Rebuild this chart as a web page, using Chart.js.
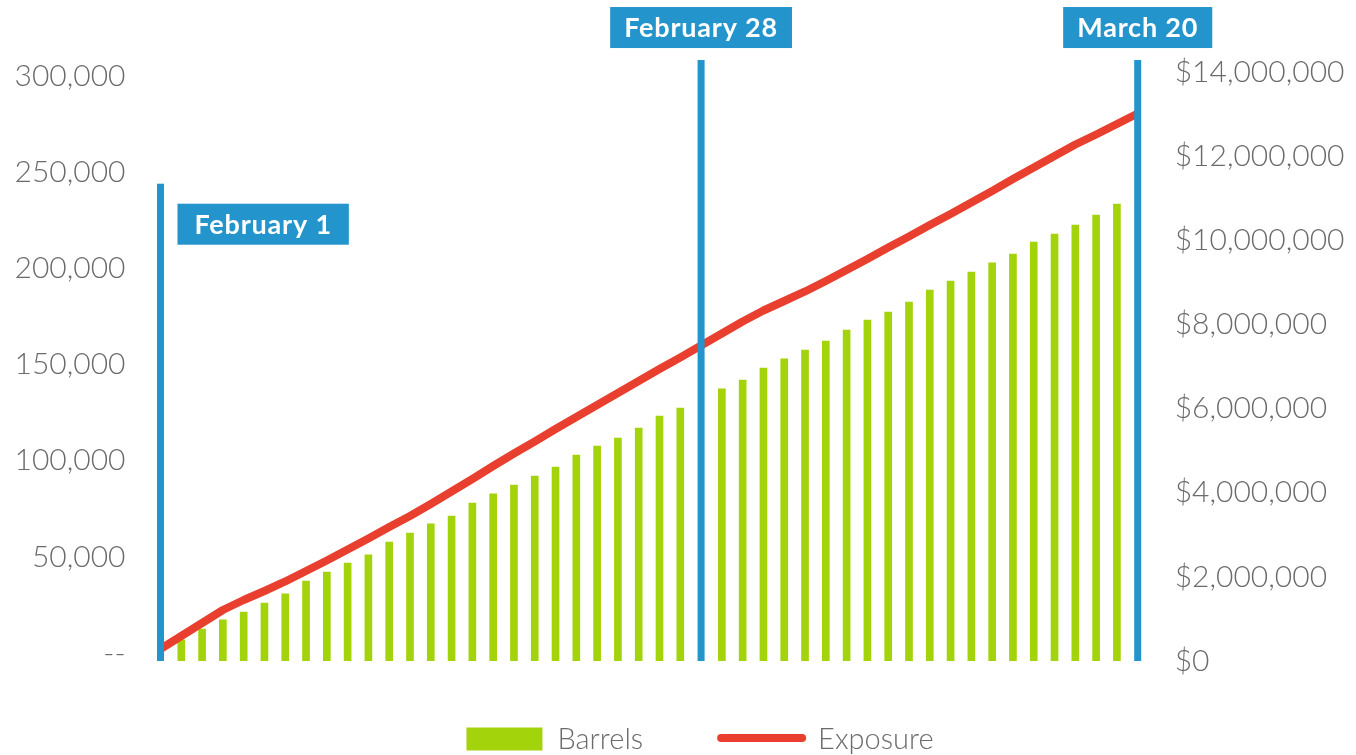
<!DOCTYPE html>
<html>
<head>
<meta charset="utf-8">
<script src="https://cdn.jsdelivr.net/npm/chart.js@4.4.1/dist/chart.umd.min.js"></script>
<style>
    html, body { margin: 0; padding: 0; background: #fff; }
    #wrap { width: 1356px; height: 755px; }
</style>
</head>
<body>
<div id="wrap"><canvas id="exposure-chart"></canvas></div>
<script>
// day slots from February 1 (1) to March 20 (48)
const days = [1, 2, 3, 4, 5, 6, 7, 8, 9, 10, 11, 12, 13, 14, 15, 16, 17, 18, 19, 20, 21, 22, 23, 24,
    25, 26, 27, 28, 29, 30, 31, 32, 33, 34, 35, 36, 37, 38, 39, 40, 41, 42, 43, 44, 45, 46, 47, 48];

const barrels = [null, 6800, 12500, 17200, 21300, 26000, 30700, 37400, 42100, 46800, 51000, 57700,
    62400, 67100, 71200, 78000, 82700, 87300, 92000, 96700, 102900, 107600, 111800, 117000, 123200,
    127400, null, 137300, 141900, 148200, 152900, 157500, 162200, 167900, 173100, 177300, 182500,
    188700, 193400, 198100, 202800, 207400, 213700, 217800, 222500, 227700, 233400, null];

const exposure = [285000, 594000, 903000, 1212000, 1450000, 1664000, 1890000, 2139000, 2389000,
    2650000, 2912000, 3185000, 3447000, 3732000, 4029000, 4326000, 4635000, 4932000, 5217000,
    5514000, 5800000, 6085000, 6370000, 6655000, 6941000, 7214000, 7499000, 7784000, 8070000,
    8331000, 8557000, 8783000, 9032000, 9294000, 9555000, 9829000, 10090000, 10363000, 10625000,
    10898000, 11171000, 11457000, 11730000, 12003000, 12277000, 12514000, 12764000, 13014000];

const barrelTicks = [0, 50000, 100000, 150000, 200000, 250000, 300000];
const exposureTicks = [0, 2000000, 4000000, 6000000, 8000000, 10000000, 12000000, 14000000];

const markerDays = [1, 27, 48];
const markerLabels = ['February 1', 'February 28', 'March 20'];
const markerTops = [244000, 308300, 308300];   // in barrels units

const blue = '#2394cc';
const green = '#a3d30a';
const red = '#e83f2f';
const grey = '#6b6b6b';

const barrelMin = -4160;
const barrelMax = 302080;

const markerPlugin = {
    id: 'markers',
    afterDatasetsDraw(chart, args, opts) {
        const { ctx, chartArea, scales: { x, yBarrels } } = chart;
        ctx.save();
        ctx.font = '700 27px Lato';
        ctx.letterSpacing = '0.8px';
        ctx.textAlign = 'center';
        ctx.textBaseline = 'middle';
        markerDays.forEach((d, i) => {
            const px = x.getPixelForValue(days.indexOf(d));
            const top = yBarrels.getPixelForValue(markerTops[i]);
            ctx.fillStyle = blue;
            ctx.fillRect(px - 3.5, top, 7, chartArea.bottom - top);

            const side = opts.placement[i] === 'side';
            const w = ctx.measureText(markerLabels[i]).width + (side ? 34 : 28);
            const h = 41;
            const bx = side ? px + 17 : px - w / 2;
            const by = side ? top + 20 : top - 12 - h;
            ctx.fillStyle = blue;
            ctx.fillRect(bx, by, w, h);
            ctx.fillStyle = '#fff';
            ctx.fillText(markerLabels[i], bx + w / 2, by + h / 2 + 1);
        });
        ctx.restore();
    }
};

// legend drawn under the plot, centred a little right of the canvas middle
const legendPlugin = {
    id: 'bottomLegend',
    afterDraw(chart, args, opts) {
        const { ctx } = chart;
        const [bars, line] = chart.data.datasets;
        ctx.save();
        ctx.font = '300 29px Lato';
        ctx.textBaseline = 'middle';
        ctx.textAlign = 'left';
        const w1 = ctx.measureText(bars.label).width;
        const w2 = ctx.measureText(line.label).width;
        const total = 76 + 15 + w1 + 74 + 89 + 12 + w2;
        let cx = opts.centerX - total / 2;
        const cy = opts.y;

        ctx.fillStyle = bars.backgroundColor;
        ctx.fillRect(cx, cy - 11.5, 76, 23);
        cx += 76 + 15;
        ctx.fillStyle = grey;
        ctx.fillText(bars.label, cx, cy + 1);
        cx += w1 + 74;

        ctx.strokeStyle = line.borderColor;
        ctx.lineWidth = 8;
        ctx.lineCap = 'round';
        ctx.beginPath();
        ctx.moveTo(cx + 4, cy - 1);
        ctx.lineTo(cx + 85, cy - 1);
        ctx.stroke();
        cx += 89 + 12;
        ctx.fillText(line.label, cx, cy + 1);
        ctx.restore();
    }
};

function createExposureChart() {
    const ctx = document.getElementById('exposure-chart');
    Chart.defaults.font.family = 'Lato';
    Chart.defaults.color = grey;

    new Chart(ctx, {
        data: {
            labels: days,
            datasets: [{
                type: 'bar',
                label: 'Barrels',
                data: barrels,
                backgroundColor: green,
                borderWidth: 0,
                barThickness: 7,
                base: barrelMin,
                yAxisID: 'yBarrels',
                order: 2
            }, {
                type: 'line',
                label: 'Exposure',
                data: exposure,
                borderColor: red,
                borderWidth: 8,
                borderJoinStyle: 'round',
                pointRadius: 0,
                tension: 0,
                yAxisID: 'yExposure',
                order: 1
            }]
        },
        options: {
            responsive: true,
            maintainAspectRatio: false,
            animation: false,
            layout: { padding: { top: 72, left: 0, right: 0, bottom: 94 } },
            scales: {
                x: {
                    type: 'category',
                    offset: false,
                    display: false
                },
                yBarrels: {
                    position: 'left',
                    min: barrelMin,
                    max: barrelMax,
                    afterBuildTicks: (scale) => { scale.ticks = barrelTicks.map(v => ({ value: v })); },
                    afterFit: (scale) => { scale.width = 160.5; },
                    grid: { display: false, drawTicks: false },
                    border: { display: false },
                    ticks: {
                        padding: 35,
                        color: grey,
                        font: { size: 30, weight: 300 },
                        callback: (v) => v === 0 ? '--' : v.toLocaleString('en-US')
                    }
                },
                yExposure: {
                    position: 'right',
                    min: 0,
                    max: 14000000,
                    afterBuildTicks: (scale) => { scale.ticks = exposureTicks.map(v => ({ value: v })); },
                    afterFit: (scale) => { scale.width = 218.3; },
                    grid: { display: false, drawTicks: false },
                    border: { display: false },
                    ticks: {
                        padding: 37,
                        color: grey,
                        font: { size: 30, weight: 300 },
                        callback: (v) => '$' + v.toLocaleString('en-US')
                    }
                }
            },
            plugins: {
                legend: { display: false },
                tooltip: { enabled: false },
                markers: { placement: ['side', 'above', 'above'] },
                bottomLegend: { centerX: 700, y: 739 }
            }
        },
        plugins: [markerPlugin, legendPlugin]
    });
}

createExposureChart();
</script>
</body>
</html>
